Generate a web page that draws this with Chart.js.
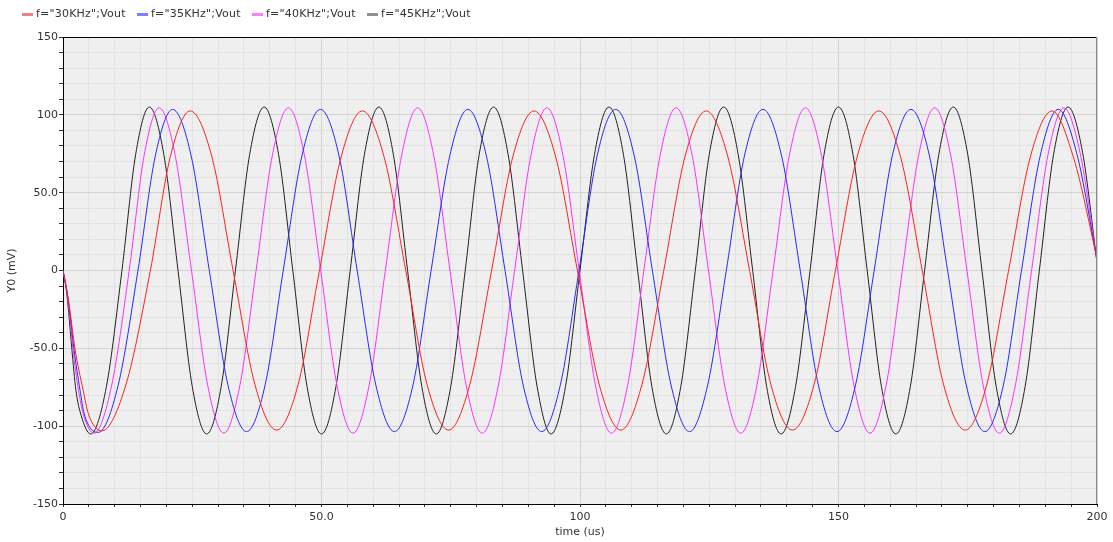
<!DOCTYPE html>
<html>
<head>
<meta charset="utf-8">
<script src="https://cdn.jsdelivr.net/npm/chart.js@4.4.1/dist/chart.umd.min.js"></script>
<style>
  html, body { margin: 0; padding: 0; background: #fff; }
  #wrap { position: relative; width: 1113px; height: 542px; }
  #legend {
    position: absolute; left: 22px; top: 7px; display: flex;
    font: 11px 'DejaVu Sans', sans-serif; color: #333;
    letter-spacing: 0.2px; line-height: 14px;
  }
  .item { display: flex; align-items: center; flex: 0 0 115px; width: 115px; white-space: nowrap; }
  .swatch { flex: 0 0 11px; width: 11px; height: 3px; margin-right: 3px; }
</style>
</head>
<body>
<div id="wrap">
  <canvas id="chart" width="1113" height="542"></canvas>
  <div id="legend"></div>
</div>
<script>
// series names as shown in the legend
const seriesNames = ['f="30KHz";Vout', 'f="35KHz";Vout', 'f="40KHz";Vout', 'f="45KHz";Vout'];

// time (us) / Y0 (mV) samples: extremes, zero crossings and points between
const redTimes = [0, 0.7, 1.3, 2.3, 3.9, 4.9, 7.5, 12.2, 16.9, 20.75,
  24.6, 28.8, 32.9, 37.1, 41.3,
  45.5, 49.6, 53.8, 57.9,
  62.1, 66.3, 70.4, 74.6,
  78.7, 82.9, 87.0, 91.1,
  95.3, 99.5, 103.7, 107.9,
  112.0, 116.2, 120.3, 124.4,
  128.6, 132.8, 136.9, 141.1,
  145.3, 149.4, 153.6, 157.8,
  162.0, 166.2, 170.3, 174.5,
  178.7, 182.9, 187.1, 191.3,
  195.5, 200];
const redValues = [0, -12, -25, -50, -77, -92, -103, -73, 0, 73,
  102.5, 73, 0, -73, -102.5,
  -73, 0, 73, 102.5,
  73, 0, -73, -102.5,
  -73, 0, 73, 102.5,
  73, 0, -73, -102.5,
  -73, 0, 73, 102.5,
  73, 0, -73, -102.5,
  -73, 0, 73, 102.5,
  73, 0, -73, -102.5,
  -73, 0, 73, 102.5,
  72, 8];

const blueTimes = [0, 0.7, 1.3, 2.1, 3.3, 4.1, 6.8, 10.65, 14.5, 17.85,
  21.2, 24.8, 28.3, 31.9, 35.5,
  39.1, 42.6, 46.2, 49.8,
  53.4, 56.9, 60.5, 64.1,
  67.7, 71.2, 74.8, 78.3,
  81.9, 85.5, 89.0, 92.6,
  96.2, 99.8, 103.3, 106.9,
  110.5, 114.0, 117.6, 121.2,
  124.7, 128.3, 131.8, 135.4,
  139.0, 142.6, 146.1, 149.7,
  153.3, 156.9, 160.4, 164.0,
  167.6, 171.1, 174.7, 178.3,
  181.9, 185.4, 189.0, 192.5,
  196.1, 200];
const blueValues = [0, -12, -26, -50, -77, -92, -104, -74, 0, 73.5,
  103.5, 73.5, 0, -73.5, -103.5,
  -73.5, 0, 73.5, 103.5,
  73.5, 0, -73.5, -103.5,
  -73.5, 0, 73.5, 103.5,
  73.5, 0, -73.5, -103.5,
  -73.5, 0, 73.5, 103.5,
  73.5, 0, -73.5, -103.5,
  -73.5, 0, 73.5, 103.5,
  73.5, 0, -73.5, -103.5,
  -73.5, 0, 73.5, 103.5,
  73.5, 0, -73.5, -103.5,
  -73.5, 0, 73.5, 103.5,
  75, 7];

const magentaTimes = [0, 0.7, 1.2, 1.9, 3.0, 3.9, 6.0, 9.4, 12.8, 15.7,
  18.6, 21.7, 24.85, 28.0, 31.1,
  34.2, 37.35, 40.5, 43.6,
  46.7, 49.85, 53.0, 56.1,
  59.2, 62.35, 65.5, 68.6,
  71.7, 74.85, 78.0, 81.1,
  84.2, 87.35, 90.5, 93.6,
  96.7, 99.85, 103.0, 106.1,
  109.2, 112.35, 115.5, 118.6,
  121.7, 124.85, 128.0, 131.1,
  134.2, 137.35, 140.5, 143.6,
  146.7, 149.85, 153.0, 156.1,
  159.2, 162.35, 165.5, 168.6,
  171.7, 174.85, 178.0, 181.1,
  184.2, 187.35, 190.5, 193.6,
  196.7, 200];
const magentaValues = [0, -13, -26, -50, -77, -92, -104.5, -74, 0, 74,
  104.5, 74, 0, -74, -104.5,
  -74, 0, 74, 104.5,
  74, 0, -74, -104.5,
  -74, 0, 74, 104.5,
  74, 0, -74, -104.5,
  -74, 0, 74, 104.5,
  74, 0, -74, -104.5,
  -74, 0, 74, 104.5,
  74, 0, -74, -104.5,
  -74, 0, 74, 104.5,
  74, 0, -74, -104.5,
  -74, 0, 74, 104.5,
  74, 0, -74, -104.5,
  -74, 0, 74, 104.5,
  76, 6];

const blackTimes = [0, 0.7, 1.1, 1.7, 2.5, 3.5, 5.35, 8.4, 11.4, 14.05,
  16.7, 19.5, 22.25, 25.0, 27.8,
  30.6, 33.35, 36.1, 38.9,
  41.7, 44.45, 47.2, 50.0,
  52.8, 55.55, 58.3, 61.1,
  63.9, 66.65, 69.4, 72.2,
  75.0, 77.8, 80.5, 83.3,
  86.1, 88.9, 91.7, 94.4,
  97.2, 100.0, 102.8, 105.6,
  108.4, 111.15, 113.9, 116.7,
  119.5, 122.3, 125.0, 127.8,
  130.6, 133.4, 136.1, 138.9,
  141.7, 144.5, 147.2, 150.0,
  152.8, 155.55, 158.3, 161.1,
  163.9, 166.65, 169.4, 172.2,
  175.0, 177.75, 180.5, 183.3,
  186.1, 188.85, 191.6, 194.4,
  197.2, 200];
const blackValues = [0, -14, -27, -50, -77, -93, -105, -74.5, 0, 74.5,
  105, 74.5, 0, -74.5, -105,
  -74.5, 0, 74.5, 105,
  74.5, 0, -74.5, -105,
  -74.5, 0, 74.5, 105,
  74.5, 0, -74.5, -105,
  -74.5, 0, 74.5, 105,
  74.5, 0, -74.5, -105,
  -74.5, 0, 74.5, 105,
  74.5, 0, -74.5, -105,
  -74.5, 0, 74.5, 105,
  74.5, 0, -74.5, -105,
  -74.5, 0, 74.5, 105,
  74.5, 0, -74.5, -105,
  -74.5, 0, 74.5, 105,
  74.5, 0, -74.5, -105,
  -74.5, 0, 74.5, 105,
  76, 5];

const lineColors = ['#ff2020', '#2828ff', '#ff30ff', '#222222'];
const swatchColors = ['#f08080', '#8080ff', '#ff80ff', '#909090'];

const toPoints = (times, values) => times.map((t, i) => ({ x: t, y: values[i] }));

const seriesData = [
  toPoints(redTimes, redValues),
  toPoints(blueTimes, blueValues),
  toPoints(magentaTimes, magentaValues),
  toPoints(blackTimes, blackValues),
];

const fmtTick = v => {
  if (v % 50 !== 0) return '';
  if (Math.abs(v) === 50) return v.toFixed(1);
  return String(v);
};

const gridColor = ctx => (ctx.tick && ctx.tick.value % 50 === 0 ? '#d2d2d2' : '#e2e2e2');

const plotFrame = {
  id: 'plotFrame',
  beforeDraw(chart) {
    const { ctx, chartArea: a } = chart;
    ctx.save();
    ctx.fillStyle = '#efefef';
    ctx.fillRect(a.left, a.top, a.right - a.left, a.bottom - a.top);
    ctx.restore();
  },
  afterDraw(chart) {
    const { ctx, chartArea: a } = chart;
    ctx.save();
    ctx.lineWidth = 1;
    ctx.strokeStyle = '#000';
    ctx.beginPath();
    ctx.moveTo(a.left, Math.round(a.top) + 0.5);
    ctx.lineTo(a.right, Math.round(a.top) + 0.5);
    ctx.stroke();
    ctx.strokeStyle = '#888';
    ctx.beginPath();
    ctx.moveTo(Math.round(a.right) - 0.5, a.top);
    ctx.lineTo(Math.round(a.right) - 0.5, a.bottom);
    ctx.stroke();
    ctx.restore();
  },
};

Chart.defaults.font.family = "'DejaVu Sans', sans-serif";
Chart.defaults.font.size = 11;
Chart.defaults.color = '#333';

new Chart('chart', {
  type: 'line',
  data: {
    datasets: seriesNames.map((name, i) => ({
      label: name,
      data: seriesData[i],
      borderColor: lineColors[i],
      borderWidth: 1,
      pointRadius: 0,
      fill: false,
      cubicInterpolationMode: 'monotone',
    })),
  },
  options: {
    responsive: false,
    animation: false,
    events: [],
    layout: { padding: { left: 6, right: 16, top: 37, bottom: 2 } },
    plugins: { legend: { display: false }, tooltip: { enabled: false } },
    scales: {
      x: {
        type: 'linear',
        min: 0,
        max: 200,
        afterFit: s => { s.height = 36; },
        ticks: { stepSize: 5, autoSkip: false, maxRotation: 0, padding: 4, callback: fmtTick },
        grid: { color: gridColor, tickColor: '#333', tickLength: 3 },
        border: { color: '#000' },
        title: { display: true, text: 'time (us)', padding: { top: 0, bottom: 1 } },
      },
      y: {
        min: -150,
        max: 150,
        afterFit: s => { s.width = 57; },
        ticks: { stepSize: 10, autoSkip: false, padding: 1, callback: fmtTick },
        grid: { color: gridColor, tickColor: '#333', tickLength: 4 },
        border: { color: '#000' },
        title: { display: true, text: 'Y0 (mV)', padding: { top: 0, bottom: 0 } },
      },
    },
  },
  plugins: [plotFrame],
});

const legend = document.getElementById('legend');
seriesNames.forEach((name, i) => {
  const item = document.createElement('span');
  item.className = 'item';
  const sw = document.createElement('span');
  sw.className = 'swatch';
  sw.style.background = swatchColors[i];
  const txt = document.createElement('span');
  txt.textContent = name;
  item.appendChild(sw);
  item.appendChild(txt);
  legend.appendChild(item);
});
</script>
</body>
</html>
